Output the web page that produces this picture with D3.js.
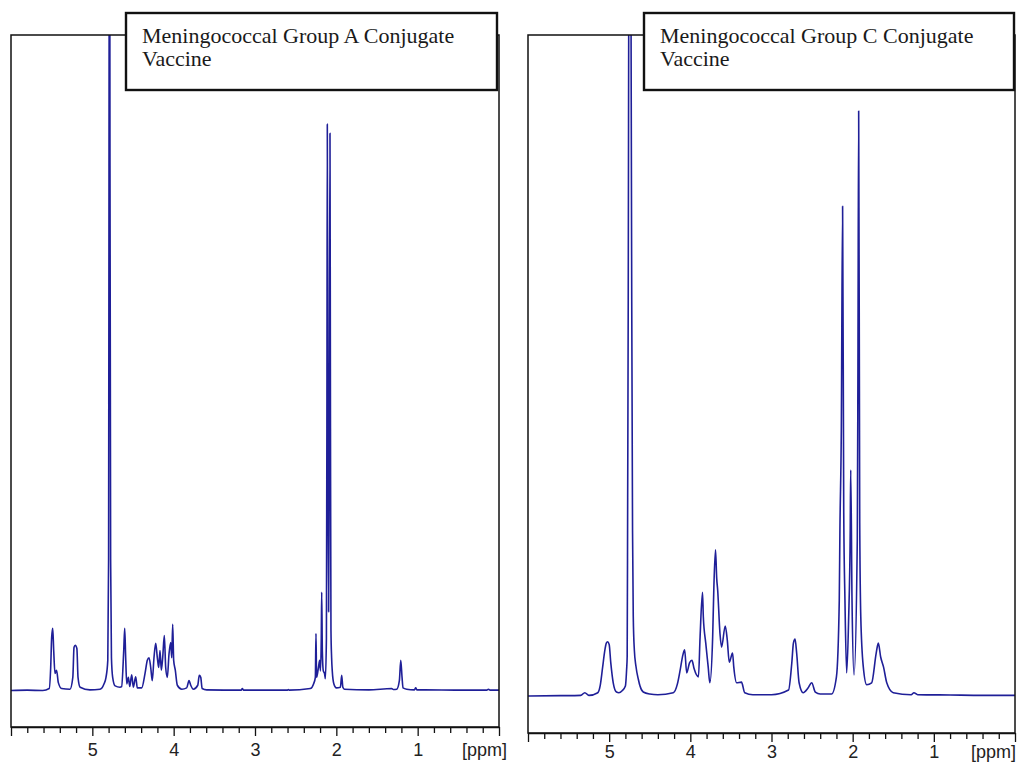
<!DOCTYPE html>
<html><head><meta charset="utf-8">
<script src="https://cdn.jsdelivr.net/npm/d3@7"></script>
<style>body{margin:0;background:#fff}svg{display:block}</style>
</head><body><svg id="c" width="1018" height="762"></svg>
<script>
// ---------- data ----------
const tickLabels = [5, 4, 3, 2, 1];
const unitLabel = "[ppm]";
const titleA = ["Meningococcal Group A Conjugate", "Vaccine"];
const titleC = ["Meningococcal Group C Conjugate", "Vaccine"];

const groupA_ppm = [6.00,5.80,5.61,5.53,5.512,5.50,5.487,5.475,5.459,5.44,5.418,5.377,5.275,5.24,5.225,5.21,5.19,5.176,5.15,5.03,4.906,4.857,4.832,4.81,4.80,4.795,4.789,4.783,4.775,4.765,4.75,4.72,4.66,4.64,4.614,4.602,4.59,4.577,4.557,4.54,4.516,4.496,4.467,4.447,4.393,4.352,4.324,4.303,4.282,4.263,4.242,4.221,4.20,4.184,4.168,4.152,4.135,4.115,4.098,4.078,4.057,4.036,4.024,4.012,4.00,3.98,3.955,3.90,3.84,3.811,3.79,3.758,3.704,3.685,3.667,3.65,3.594,3.17,3.156,3.14,2.60,2.59,2.58,2.32,2.28,2.258,2.25,2.243,2.22,2.205,2.195,2.185,2.18,2.172,2.16,2.145,2.135,2.122,2.116,2.111,2.104,2.095,2.089,2.078,2.072,2.066,2.058,2.05,2.03,2.00,1.95,1.934,1.92,1.90,1.60,1.319,1.30,1.257,1.225,1.208,1.192,1.18,1.135,1.04,1.024,1.01,0.91,0.50,0.15,0.13,0.11,0.00];
const groupA_int = [0,0.05,0,0.3,3.5,8.1,9.5,6.1,2.6,3.1,1.2,0.3,0.2,2.0,6.6,6.9,6.4,2.0,0.5,0.1,0.2,1.0,2.0,4.6,20,80,150,80,20,5,2.0,0.7,0.5,0.6,6.1,9.5,5.0,1.0,2.0,0.6,2.4,0.5,2.1,0.4,0.4,2.6,4.6,5.0,3.5,1.5,5.0,7.2,4.9,3.5,6.1,3.1,5.0,8.4,3.5,2.0,5.6,7.3,5.0,10.1,4.6,3.1,0.8,0.2,0.4,1.5,0.8,0.2,0.8,2.3,2.0,0.3,0.1,0.05,0.3,0.05,0.05,0.15,0.05,0.3,1.0,2.0,8.7,2.0,3.5,4.6,3.0,8,15.0,6,3.0,2.6,1.8,8,40,86.4,40,12,30,85.0,40,9.2,5,3.0,1.0,0.4,0.5,2.3,0.5,0.2,0.1,0.3,0.15,0.2,1.5,4.6,2.0,0.4,0.2,0.1,0.4,0.1,0.1,0.05,0.05,0.2,0.05,0.05];

const groupC_ppm = [6.00,5.60,5.35,5.30,5.25,5.14,5.11,5.08,5.055,5.035,5.02,5.00,4.98,4.95,4.91,4.88,4.84,4.80,4.785,4.778,4.772,4.765,4.758,4.745,4.732,4.722,4.712,4.703,4.69,4.67,4.64,4.62,4.58,4.50,4.40,4.21,4.16,4.13,4.09,4.07,4.045,4.01,3.98,3.955,3.90,3.88,3.85,3.84,3.81,3.78,3.76,3.725,3.71,3.69,3.675,3.663,3.635,3.615,3.57,3.545,3.52,3.48,3.465,3.43,3.37,3.33,3.23,3.00,2.79,2.75,2.73,2.71,2.69,2.66,2.61,2.55,2.505,2.46,2.40,2.26,2.20,2.165,2.157,2.14,2.124,2.11,2.095,2.074,2.05,2.03,2.024,2.008,1.983,1.943,1.935,1.926,1.913,1.90,1.869,1.827,1.766,1.71,1.684,1.655,1.62,1.58,1.50,1.28,1.245,1.20,0.80,0.40,0.00];
const groupC_int = [0,0.05,0.1,0.5,0.1,0.5,1.6,4.4,6.8,8.0,8.2,7.8,5.0,2.0,0.6,0.5,0.8,1.5,4,6,30,60,110,170,110,60,25,12,7,4.5,2.5,1.5,0.6,0.3,0.2,0.5,1.8,3.6,6.3,7.0,3.5,5.0,5.4,4.2,2.9,8.9,15.7,12,8.0,4.4,2.0,8.9,16.5,22.1,17.8,16.0,9.5,7.4,10.6,8.5,5.1,6.5,4.4,2.0,2.1,0.5,0.2,0.2,0.9,5.0,8.0,8.6,6.5,2.0,0.5,1.2,2.0,0.6,0.3,0.3,2.9,14.5,25.1,40,74.1,27.8,14.5,3.5,11.5,25,34.2,14.5,3.2,23.6,50,88.5,26.2,12,4.4,1.7,2.0,6.5,8.0,5.9,4.4,2.0,0.5,0.2,0.5,0.2,0.15,0.1,0.1];

// ---------- drawing ----------
const svg = d3.select("#c");
const lineColor = "#1f1f98";
const sans = "'Liberation Sans', Arial, Helvetica, sans-serif";

function panel(cfg, ppm, inten, title, id) {
  const g = svg.append("g");
  const x = d3.scaleLinear().domain([6, 0]).range([cfg.left, cfg.right]);
  const y = d3.scaleLinear().domain([0, 100]).range([cfg.base, cfg.top]);

  g.append("clipPath").attr("id", "clip" + id)
    .append("rect").attr("x", cfg.left).attr("y", cfg.top)
    .attr("width", cfg.right - cfg.left).attr("height", cfg.bottom - cfg.top);

  const pts = ppm.map((p, i) => [p, inten[i]]);
  g.append("path").datum(pts)
    .attr("clip-path", "url(#clip" + id + ")")
    .attr("fill", "none").attr("stroke", lineColor)
    .attr("stroke-width", 1.6).attr("stroke-linejoin", "round")
    .attr("d", d3.line().curve(d3.curveMonotoneX).x(d => x(d[0])).y(d => y(d[1])));

  g.append("rect").attr("x", cfg.left).attr("y", cfg.top)
    .attr("width", cfg.right - cfg.left).attr("height", cfg.bottom - cfg.top)
    .attr("fill", "none").attr("stroke", "#111").attr("stroke-width", 1.5);

  // minor ticks
  const minor = d3.range(0, 31).map(i => +(i * 0.2).toFixed(1)).filter(v => Math.abs(v - Math.round(v)) > 1e-6);
  const axMinor = g.append("g").attr("transform", `translate(0,${cfg.bottom})`)
    .call(d3.axisBottom(x).tickValues(minor).tickSize(6).tickSizeOuter(0).tickFormat(""));
  axMinor.select(".domain").remove();
  axMinor.selectAll("line").attr("stroke", "#111").attr("stroke-width", 1.3);

  const majors = [0, 1, 2, 3, 4, 5, 6];
  const axMajor = g.append("g").attr("transform", `translate(0,${cfg.bottom})`)
    .call(d3.axisBottom(x).tickValues(majors).tickSize(9).tickSizeOuter(0).tickPadding(cfg.pad)
      .tickFormat(d => tickLabels.includes(d) ? String(d) : ""));
  axMajor.select(".domain").attr("stroke", "#111").attr("stroke-width", 1.5);
  axMajor.selectAll("line").attr("stroke", "#111").attr("stroke-width", 1.3);
  axMajor.selectAll("text").attr("font-family", sans)
    .attr("font-size", 18).attr("fill", "#222");

  g.append("text").attr("x", cfg.unitX).attr("y", cfg.unitY)
    .attr("font-family", sans)
    .attr("font-size", 18).attr("fill", "#222").text(unitLabel);

  // title box
  g.append("rect").attr("x", cfg.boxX).attr("y", 13).attr("width", cfg.boxW).attr("height", 77)
    .attr("fill", "#fff").attr("stroke", "#111").attr("stroke-width", 2.4);
  const t = g.append("text").attr("font-family", "'Liberation Serif', 'Times New Roman', serif")
    .attr("font-size", 22).attr("fill", "#1a1a1a");
  title.forEach((s, i) => t.append("tspan").attr("x", cfg.boxX + 16).attr("y", 43 + i * 23).text(s));
}

panel({left: 11, right: 499, top: 35, bottom: 727, base: 690.5, pad: 7, unitX: 462, unitY: 756, boxX: 126, boxW: 371},
  groupA_ppm, groupA_int, titleA, "A");
panel({left: 528, right: 1015, top: 35, bottom: 733, base: 696, pad: 3, unitX: 971, unitY: 758, boxX: 644, boxW: 370},
  groupC_ppm, groupC_int, titleC, "C");
</script>
</body></html>
